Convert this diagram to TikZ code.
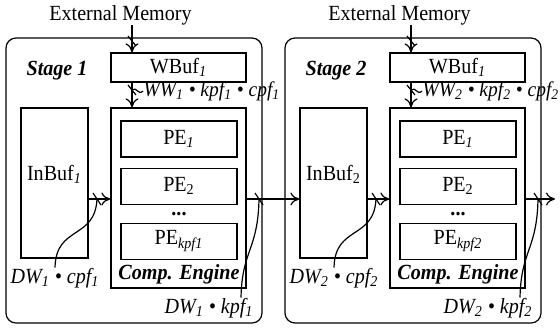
\documentclass[tikz,border=0pt]{standalone}
\usepackage{fontspec}
\setmainfont[Scale=1.08, FakeStretch=0.93]{Liberation Serif}
\usetikzlibrary{calc, positioning, arrows.meta}

\begin{document}
\begin{tikzpicture}[x=0.5pt, y=-0.5pt,
    box/.style={draw, rectangle, inner sep=0pt},
    stagebox/.style={draw, rectangle, rounded corners=5pt,
      minimum width=128pt, minimum height=142.5pt},
    buf/.style={box, minimum width=67.5pt, minimum height=14.5pt},
    engine/.style={box, minimum width=67.5pt, minimum height=90pt},
    inbuf/.style={box, minimum width=33.5pt, minimum height=75pt},
    pe/.style={box, minimum width=58pt, minimum height=18pt},
    txt/.style={inner sep=0pt},
    bold/.style={font=\bfseries\itshape},
    note/.style={font=\itshape, inner sep=0pt},
    wnote/.style={note, font=\itshape\fontsize{9.7}{11}\selectfont},
    >={To[length=4.5pt,width=6.5pt]},
    line width=0.6pt]

    \useasboundingbox (0,0) rectangle (560,328);

    % stage 1
    \node[stagebox] (stage1) at (134,180.5) {};
    \node[txt] (ext1) at (120.5,15) {External Memory};
    \node[txt,bold] (title1) at (57,71) {Stage 1};
    \node[buf] (wbuf1) at (178.5,67.5) {WBuf\textsubscript{\textit{1}}};
    \node[engine] (ce1) at (178.5,198) {};
    \node[pe] (pe11) at (179,139) {PE\textsubscript{\textit{1}}};
    \node[pe,below=5pt of pe11] (pe12) {PE\textsubscript{2}};
    \node[pe,below=9pt of pe12] (pe1k) {PE\textsubscript{\textit{kpf1}}};
    \node[txt] (dots1) at ($(pe12.south)!0.5!(pe1k.north)$) {\textbf{...}};
    \node[txt,bold] (cename1) at (179,274) {Comp. Engine};
    \node[inbuf] (inbuf1) at (54.5,183) {};
    \node[txt] (inname1) at (54.5,174) {InBuf\textsubscript{\textit{1}}};
    \node[wnote,anchor=west] (ww1) at (143,91) {WW\textsubscript{1} • kpf\textsubscript{1} • cpf\textsubscript{1}};
    \node[note] (dwc1) at (55,278) {DW\textsubscript{1} • cpf\textsubscript{1}};
    \node[note] (dwk1) at (209,308) {DW\textsubscript{1} • kpf\textsubscript{1}};

    % stage 2
    \node[stagebox] (stage2) at (413,180.5) {};
    \node[txt] (ext2) at (399.5,15) {External Memory};
    \node[txt,bold] (title2) at (336,71) {Stage 2};
    \node[buf] (wbuf2) at (457.5,67.5) {WBuf\textsubscript{\textit{1}}};
    \node[engine] (ce2) at (457.5,198) {};
    \node[pe] (pe21) at (458,139) {PE\textsubscript{\textit{1}}};
    \node[pe,below=5pt of pe21] (pe22) {PE\textsubscript{2}};
    \node[pe,below=9pt of pe22] (pe2k) {PE\textsubscript{\textit{kpf2}}};
    \node[txt] (dots2) at ($(pe22.south)!0.5!(pe2k.north)$) {\textbf{...}};
    \node[txt,bold] (cename2) at (458,274) {Comp. Engine};
    \node[inbuf] (inbuf2) at (333.5,183) {};
    \node[txt] (inname2) at (333.5,174) {InBuf\textsubscript{2}};
    \node[wnote,anchor=west] (ww2) at (422,91) {WW\textsubscript{2} • kpf\textsubscript{2} • cpf\textsubscript{2}};
    \node[note] (dwc2) at (334,278) {DW\textsubscript{2} • cpf\textsubscript{2}};
    \node[note] (dwk2) at (488,308) {DW\textsubscript{2} • kpf\textsubscript{2}};

    \coordinate (bus) at (0,199);
    \coordinate (mem1) at (132,0);
    \coordinate (mem2) at (411,0);
    \coordinate (out) at (555,199);

    % data paths
    \draw[->] (ext1.south -| mem1) -- (wbuf1.north -| mem1);
    \draw[->] (wbuf1.south -| mem1) -- (ce1.north -| mem1);
    \draw[->] (inbuf1.east |- bus) -- (ce1.west |- bus);
    \draw[->] (ce1.east |- bus) -- (inbuf2.west |- bus);
    \draw[->] (ext2.south -| mem2) -- (wbuf2.north -| mem2);
    \draw[->] (wbuf2.south -| mem2) -- (ce2.north -| mem2);
    \draw[->] (inbuf2.east |- bus) -- (ce2.west |- bus);
    \draw[->] (ce2.east |- bus) -- (out);

    % bus widths
    \draw ($(mem1)+(-4,36)$) -- ($(mem1)+(4,46)$);
    \draw ($(mem1)+(-4,85)$) -- ($(mem1)+(4,95)$);
    \draw ($(97,199)+(-4,-6)$) -- ($(97,199)+(4,6)$);
    \draw ($(259,199)+(-4,-6)$) -- ($(259,199)+(4,6)$);
    \draw ($(mem2)+(-4,36)$) -- ($(mem2)+(4,46)$);
    \draw ($(mem2)+(-4,85)$) -- ($(mem2)+(4,95)$);
    \draw ($(376,199)+(-4,-6)$) -- ($(376,199)+(4,6)$);
    \draw ($(538,199)+(-4,-6)$) -- ($(538,199)+(4,6)$);

    \draw (ww1.west) .. controls (138,96) and (137,86) .. (132,90);
    \draw (dwc1.north) .. controls (56,225) and (95,240) .. (97,199);
    \draw ($(dwk1.north)+(32,0)$) .. controls (242,250) and (258,250) .. (259,199);
    \draw (ww2.west) .. controls (417,96) and (416,86) .. (411,90);
    \draw (dwc2.north) .. controls (335,225) and (374,240) .. (376,199);
    \draw ($(dwk2.north)+(32,0)$) .. controls (521,250) and (537,250) .. (538,199);
  \end{tikzpicture}
\end{document}
